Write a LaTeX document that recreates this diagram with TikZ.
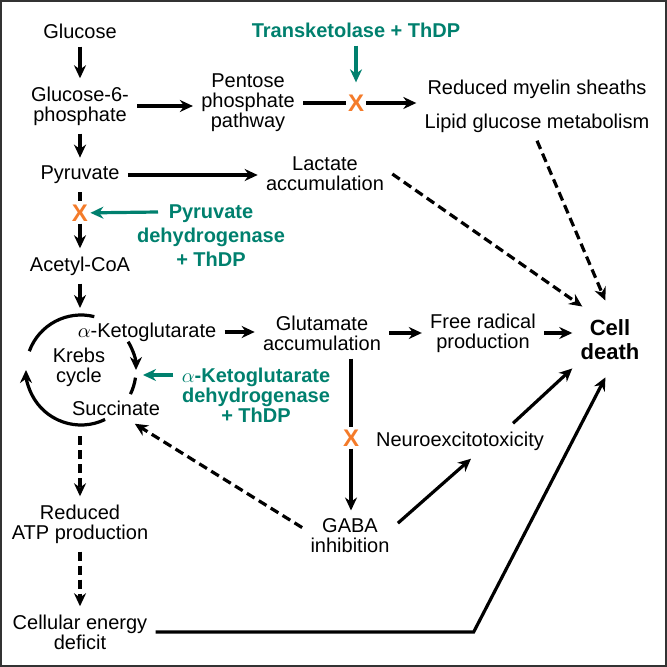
\documentclass[tikz,border=0pt]{standalone}
\usepackage{fontspec}
\setmainfont{Liberation Sans}
\usetikzlibrary{arrows.meta, calc}
\definecolor{enzgreen}{HTML}{00806E}
\definecolor{blockorange}{HTML}{F47B2A}

\begin{document}
\begin{tikzpicture}[x=0.5pt, y=0.5pt,
	lbl/.style={align=center, inner sep=4pt, font=\fontsize{10}{10}\selectfont},
	enz/.style={align=center, inner sep=4pt, text=enzgreen, font=\bfseries\fontsize{10}{10}\selectfont},
	blk/.style={text=blockorange, inner sep=1pt, font=\bfseries\fontsize{12}{12}\selectfont},
	ln/.style={line width=1.6pt},
	arr/.style={ln, -{Stealth[length=6.5pt, width=6pt]}},
	darr/.style={arr, dash pattern=on 4.5pt off 2.5pt},
	garr/.style={arr, enzgreen}]
	\useasboundingbox (0,0) rectangle (667,-667);
	\draw [line width=1.2pt, black!80] (1,-1) rectangle (666,-666);

	\node [lbl] (glc) at (80,-31) {Glucose};
	\node [lbl] (g6p) at (80,-106) {Glucose-6-\\phosphate};
	\node [lbl] (ppp) at (248,-103) {Pentose\\phosphate\\pathway};
	\node [enz] (tk) at (356,-30) {Transketolase + ThDP};
	\node [blk] (xtk) at (356,-103) {X};
	\node [lbl] (mye) at (537,-89) {Reduced myelin sheaths};
	\node [lbl] (lip) at (537,-123) {Lipid glucose metabolism};
	\node [lbl] (pyr) at (80,-175) {Pyruvate};
	\node [lbl] (lac) at (325,-174) {Lactate\\accumulation};
	\node [blk] (xpdh) at (80,-213) {X};
	\node [enz, font=\bfseries\fontsize{10}{12}\selectfont] (pdh) at (211,-236) {Pyruvate\\dehydrogenase\\+ ThDP};
	\node [lbl] (aca) at (80,-266) {Acetyl-CoA};
	\node [lbl] (akg) at (147,-332) {$\alpha$-Ketoglutarate};
	\node [lbl] (krebs) at (79,-367) {Krebs\\cycle};
	\node [lbl] (suc) at (116,-408) {Succinate};
	\node [enz] (kgdh) at (256,-395) {$\alpha$-Ketoglutarate\\dehydrogenase\\+ ThDP};
	\node [lbl] (glu) at (322,-333) {Glutamate\\accumulation};
	\node [lbl] (frp) at (483,-333) {Free radical\\production};
	\node [lbl, font=\bfseries\fontsize{11}{12}\selectfont] (cell) at (610,-340) {Cell\\death};
	\node [blk] (xgaba) at (351,-438) {X};
	\node [lbl] (neu) at (460,-441) {Neuroexcitotoxicity};
	\node [lbl] (gaba) at (350,-536) {GABA\\inhibition};
	\node [lbl] (atp) at (80,-524) {Reduced\\ATP production};
	\node [lbl] (ced) at (80,-632) {Cellular energy\\deficit};

	\coordinate (kc) at (81,-370);
	\coordinate (ktop) at (80,-308);
	\coordinate (kbot) at (80,-436);
	\coordinate (kin) at (143,-375);
	\coordinate (pdhtail) at (158,-212);

	\draw [arr] (glc) -- (g6p);
	\draw [arr] (g6p.east) -- (g6p.east -| ppp.west);
	\draw [ln] (ppp) -- (xtk);
	\draw [arr] (xtk) -- (xtk -| lip.west);
	\draw [garr, shorten >=5pt] (tk) -- (xtk);
	\draw [darr, shorten >=6pt] (lip.south) -- (cell.north);
	\draw [arr] (g6p) -- (pyr);
	\draw [arr] (pyr.east) -- (pyr.east -| lac.west);
	\draw [darr] (lac.east) -- ($(cell.north west)+(10,5)$);
	\draw [ln, dash pattern=on 4.5pt off 2.5pt] (pyr) -- (xpdh);
	\draw [arr] (xpdh) -- (aca);
	\draw [garr] (pdhtail) -- (xpdh);
	\draw [arr] (aca) -- (ktop);

	\draw [ln] ([shift={(160:55)}]kc) arc [start angle=160, end angle=76, radius=55];
	\draw [arr] ([shift={(31:55)}]kc) arc [start angle=31, end angle=0, radius=55];
	\draw [ln] ([shift={(-8:55)}]kc) arc [start angle=-8, end angle=-26, radius=55];
	\draw [arr] ([shift={(-64:55)}]kc) arc [start angle=-64, end angle=-180, radius=55];
	\draw [garr] (kin -| kgdh.west) -- (kin);

	\draw [arr] (akg.east) -- (akg.east -| glu.west);
	\draw [arr] (glu.east) -- (glu.east -| frp.west);
	\draw [arr] (frp.east) -- (frp.east -| cell.west);
	\draw [ln] (glu.south -| xgaba) -- (xgaba);
	\draw [arr] (xgaba) -- (xgaba |- gaba.north);
	\draw [arr] (gaba.15) -- ($(neu.south)+(11,0)$);
	\draw [arr] ($(neu.north)+(53,0)$) -- (cell.south west);
	\draw [darr] (gaba.170) -- (suc.-40);

	\draw [darr] (kbot) -- (atp);
	\draw [darr] (atp) -- (ced);
	\draw [arr, shorten >=5pt] (ced.east) -- ++(318,0) -- (cell.south);
\end{tikzpicture}
\end{document}
